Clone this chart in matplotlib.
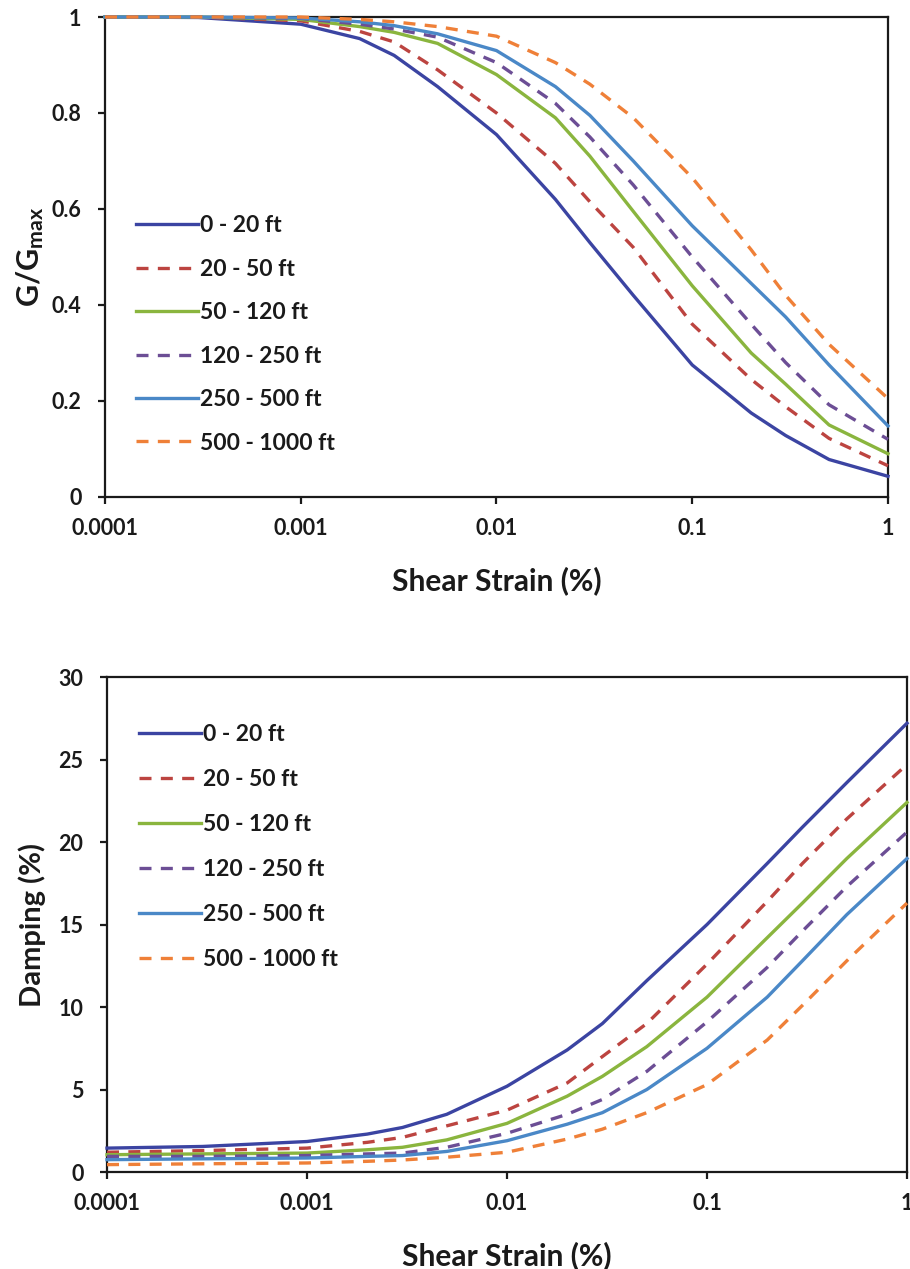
import matplotlib
matplotlib.use("Agg")
import matplotlib.pyplot as plt

plt.rcParams['font.family'] = ['Lato', 'DejaVu Sans']
plt.rcParams['mathtext.fontset'] = 'custom'
plt.rcParams['mathtext.rm'] = 'Lato'
plt.rcParams['mathtext.bf'] = 'Lato:bold'

# shear strain (%) where the curves were read
strain = [0.0001, 0.0003, 0.001, 0.002, 0.003, 0.005, 0.01, 0.02, 0.03, 0.05,
          0.1, 0.2, 0.3, 0.5, 1.0]

labels = ['0 - 20 ft', '20 - 50 ft', '50 - 120 ft', '120 - 250 ft',
          '250 - 500 ft', '500 - 1000 ft']

# G/Gmax curves
g_0_20 = [1.0, 0.999, 0.985, 0.955, 0.92, 0.855, 0.755, 0.62, 0.53, 0.42,
          0.275, 0.175, 0.128, 0.078, 0.043]
g_20_50 = [1.0, 1.0, 0.992, 0.97, 0.948, 0.89, 0.80, 0.695, 0.615, 0.52,
           0.36, 0.245, 0.188, 0.122, 0.065]
g_50_120 = [1.0, 1.0, 0.995, 0.98, 0.968, 0.945, 0.88, 0.79, 0.71, 0.595,
            0.44, 0.30, 0.235, 0.15, 0.09]
g_120_250 = [1.0, 1.0, 0.997, 0.985, 0.975, 0.958, 0.905, 0.82, 0.75, 0.65,
             0.50, 0.36, 0.28, 0.192, 0.12]
g_250_500 = [1.0, 1.0, 0.998, 0.99, 0.982, 0.965, 0.93, 0.855, 0.795, 0.70,
             0.565, 0.445, 0.375, 0.275, 0.148]
g_500_1000 = [1.0, 1.0, 1.0, 0.995, 0.99, 0.98, 0.96, 0.905, 0.86, 0.79,
              0.665, 0.515, 0.42, 0.318, 0.205]

# damping (%) curves
d_0_20 = [1.45, 1.55, 1.85, 2.3, 2.7, 3.5, 5.2, 7.4, 9.0, 11.6,
          15.0, 18.7, 20.9, 23.6, 27.2]
d_20_50 = [1.2, 1.3, 1.45, 1.8, 2.1, 2.8, 3.75, 5.4, 7.0, 9.0,
           12.6, 16.4, 18.7, 21.4, 24.7]
d_50_120 = [1.05, 1.1, 1.15, 1.35, 1.5, 1.95, 2.95, 4.6, 5.8, 7.6,
            10.6, 14.2, 16.3, 19.0, 22.4]
d_120_250 = [0.95, 0.95, 1.0, 1.1, 1.15, 1.5, 2.35, 3.5, 4.4, 6.1,
             9.1, 12.4, 14.6, 17.3, 20.6]
d_250_500 = [0.75, 0.8, 0.85, 0.95, 1.0, 1.25, 1.9, 2.9, 3.6, 5.0,
             7.5, 10.6, 12.8, 15.6, 19.0]
d_500_1000 = [0.45, 0.5, 0.55, 0.65, 0.73, 0.9, 1.2, 2.0, 2.6, 3.6,
              5.3, 8.0, 10.1, 12.8, 16.3]

g_curves = [g_0_20, g_20_50, g_50_120, g_120_250, g_250_500, g_500_1000]
d_curves = [d_0_20, d_20_50, d_50_120, d_120_250, d_250_500, d_500_1000]

colors = ['#3B44A2', '#BC4440', '#8AB53E', '#6C4E95', '#4A88C7', '#EF8038']
dash = (0, (3.6, 2.8))
styles = ['-', dash, '-', dash, '-', dash]

fig = plt.figure(figsize=(9.1, 12.69), dpi=100)
ax1 = fig.add_axes([0.1154, 0.6084, 0.8604, 0.3782])
ax2 = fig.add_axes([0.1176, 0.0764, 0.8791, 0.3901])


def style_axes(ax):
    ax.set_xscale('log')
    ax.set_xlim(0.0001, 1)
    ax.set_xticks([0.0001, 0.001, 0.01, 0.1, 1])
    ax.set_xticklabels(['0.0001', '0.001', '0.01', '0.1', '1'])
    ax.minorticks_off()
    for sp in ax.spines.values():
        sp.set_linewidth(1.6)
        sp.set_color('#1a1a1a')
    ax.tick_params(axis='both', direction='out', length=5, width=1.6,
                   labelsize=15.5, colors='#1a1a1a')
    ax.tick_params(axis='x', pad=10)
    ax.tick_params(axis='y', pad=12)
    for lab in ax.get_xticklabels() + ax.get_yticklabels():
        lab.set_fontweight('bold')
    ax.set_xlabel('Shear Strain (%)', fontsize=21.5, fontweight='bold',
                  labelpad=20, color='#1a1a1a')


def add_legend(ax, y_anchor, spacing):
    leg = ax.legend(loc='upper left', bbox_to_anchor=(0.04, y_anchor),
                    frameon=False, prop={'size': 16.5, 'weight': 'bold'},
                    handlelength=2.7, handletextpad=0.1,
                    labelspacing=spacing, borderpad=0, borderaxespad=0)
    for t in leg.get_texts():
        t.set_color('#1a1a1a')
    return leg


for curve, lab, c, ls in zip(g_curves, labels, colors, styles):
    ax1.plot(strain, curve, color=c, linestyle=ls, lw=2.4, label=lab,
             clip_on=False, zorder=3)
ax1.set_ylim(0, 1)
ax1.set_yticks([0, 0.2, 0.4, 0.6, 0.8, 1])
ax1.set_yticklabels(['0', '0.2', '0.4', '0.6', '0.8', '1'])
style_axes(ax1)
ax1.set_ylabel(r'$\mathbf{G/G_{max}}$', fontsize=22, labelpad=4,
               color='#1a1a1a')
add_legend(ax1, 0.587, 0.98)

for curve, lab, c, ls in zip(d_curves, labels, colors, styles):
    ax2.plot(strain, curve, color=c, linestyle=ls, lw=2.4, label=lab,
             clip_on=False, zorder=3)
ax2.set_ylim(0, 30)
ax2.set_yticks([0, 5, 10, 15, 20, 25, 30])
style_axes(ax2)
ax2.set_ylabel('Damping (%)', fontsize=21, fontweight='bold', labelpad=9,
               color='#1a1a1a')
add_legend(ax2, 0.905, 1.05)

fig.savefig('out.png', dpi=100)
